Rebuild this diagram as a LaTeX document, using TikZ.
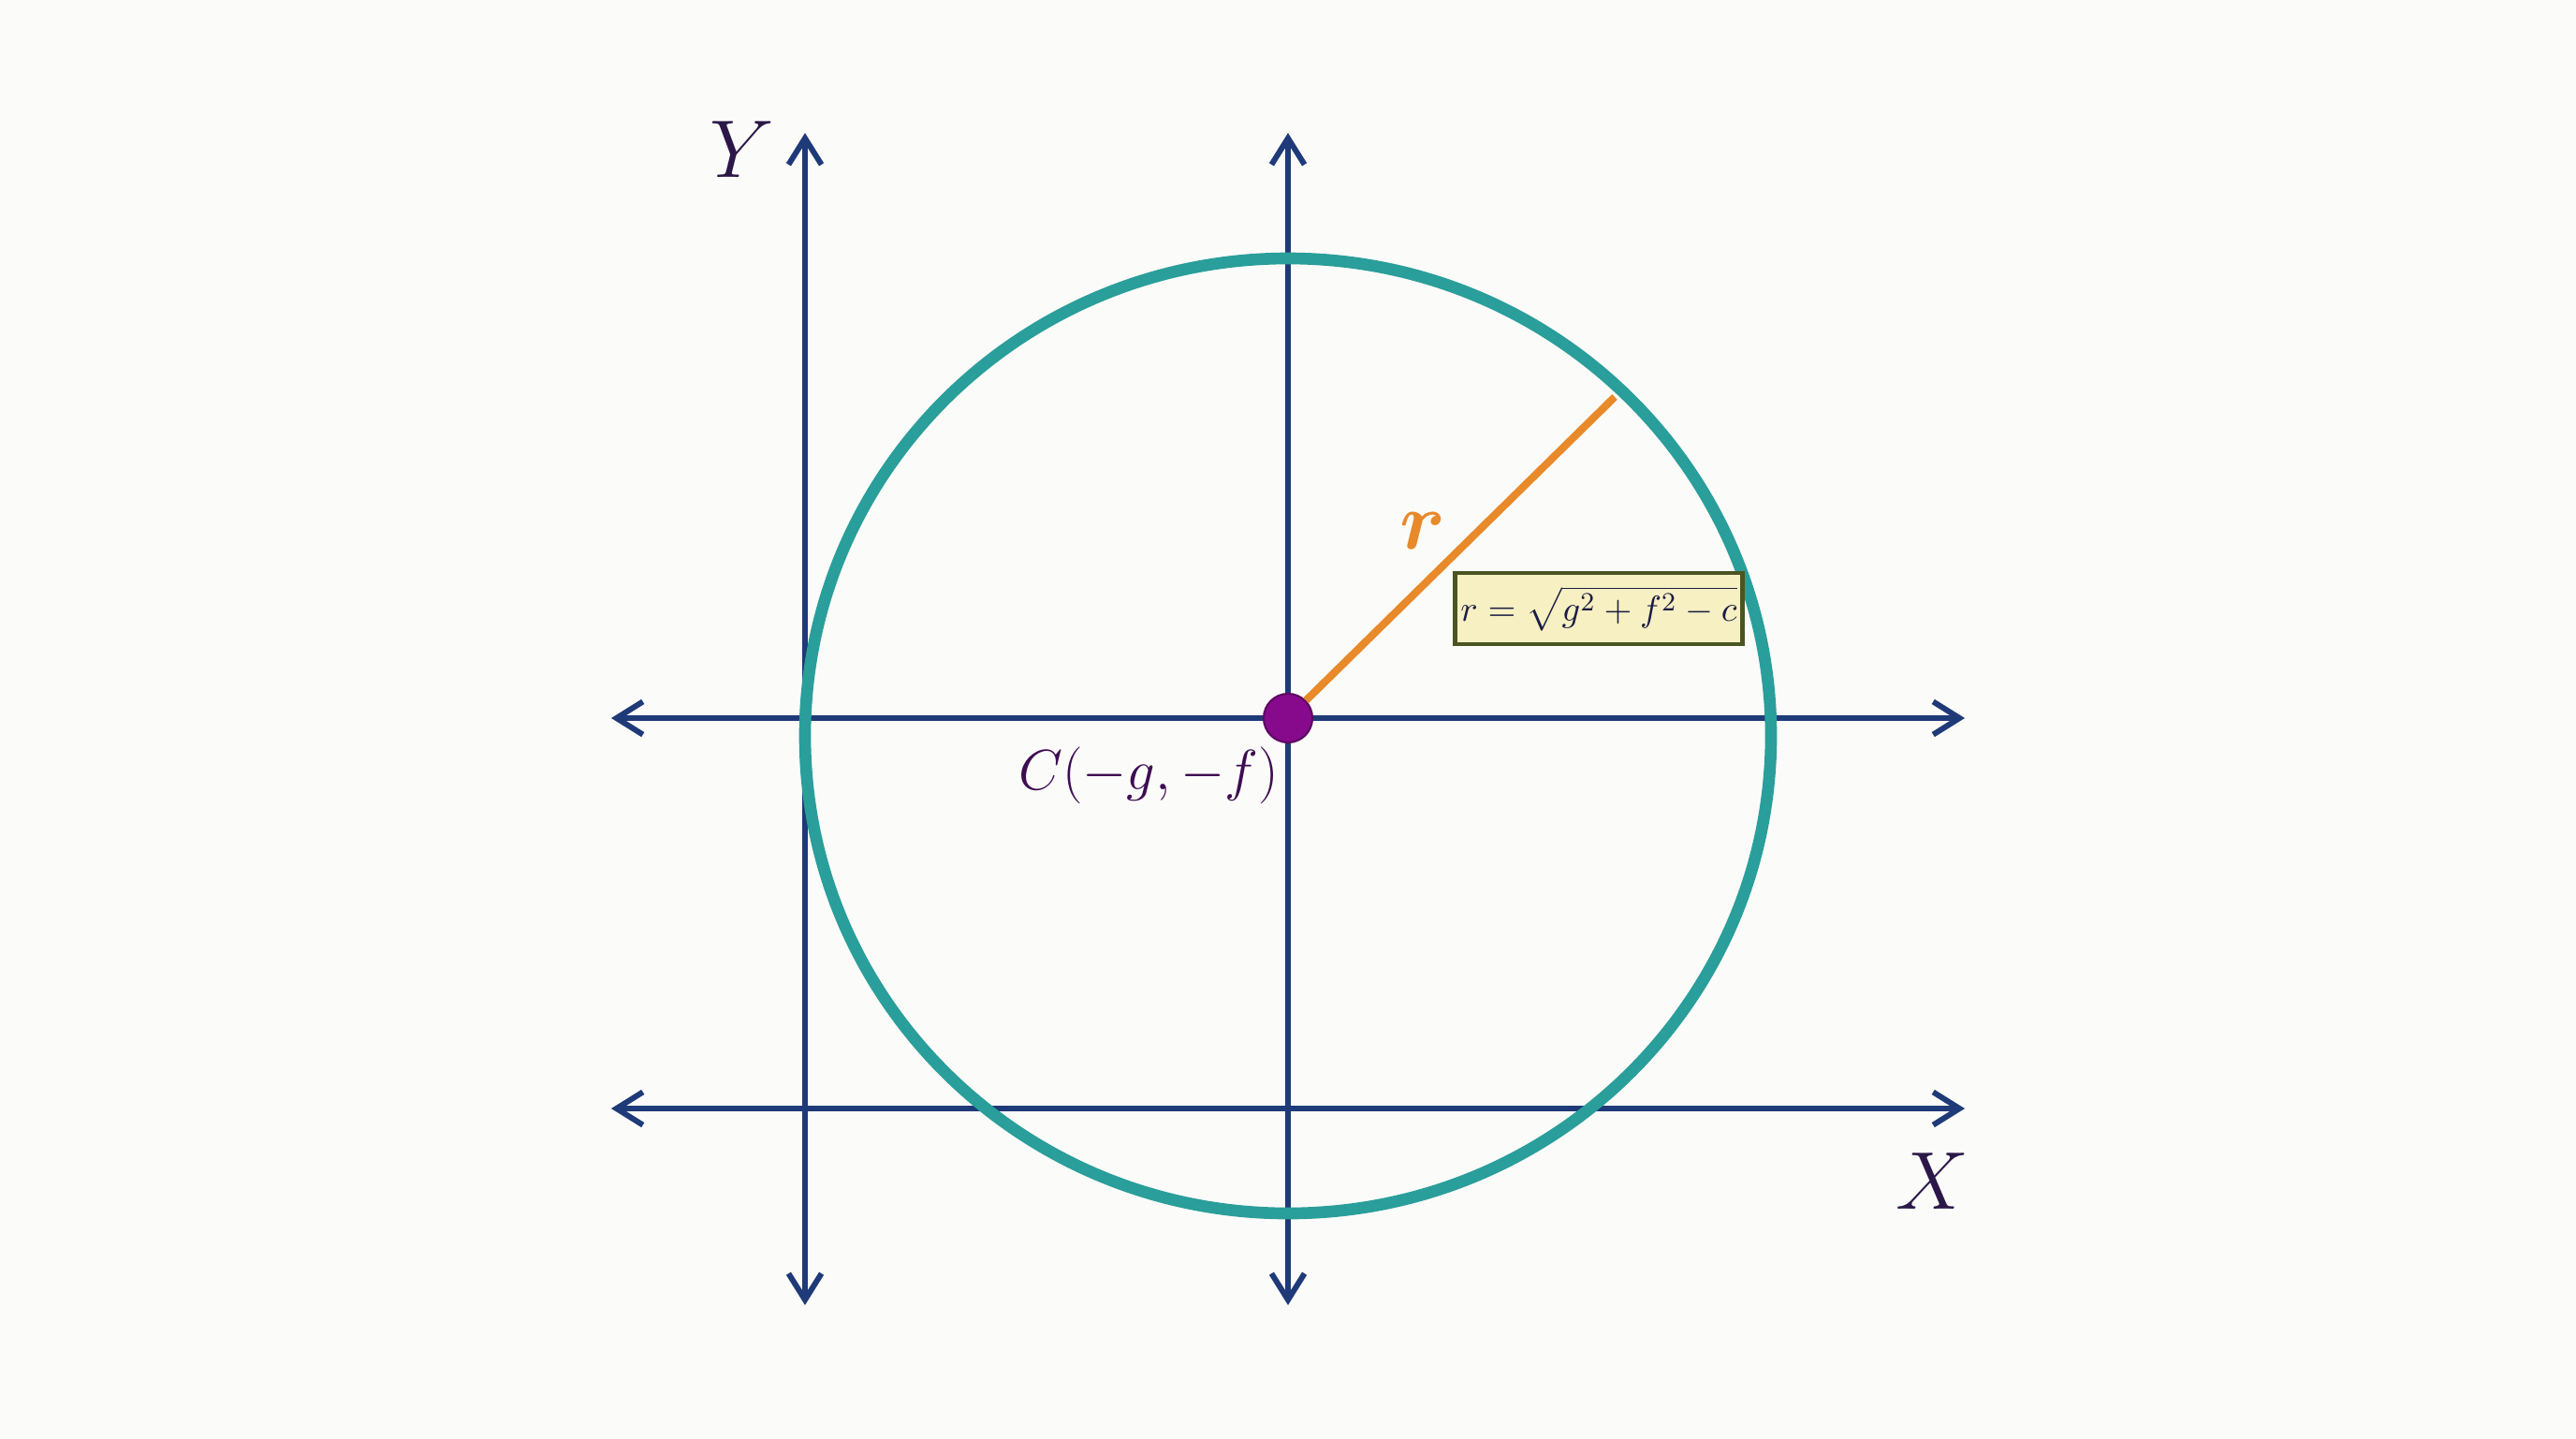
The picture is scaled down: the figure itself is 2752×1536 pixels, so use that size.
\documentclass[tikz,border=0pt]{standalone}
\usepackage{amsmath}
\usepackage{bm}
\usetikzlibrary{arrows.meta}
\definecolor{bgc}{HTML}{FBFBF9}
\definecolor{axisc}{HTML}{1F3A78}
\definecolor{circc}{HTML}{2A9E9A}
\definecolor{radc}{HTML}{E8892A}
\definecolor{dotc}{HTML}{870A8C}
\definecolor{lblc}{HTML}{2B1848}
\definecolor{clblc}{HTML}{3E0C52}
\definecolor{boxfill}{HTML}{F6F0C2}
\definecolor{boxdraw}{HTML}{4A5522}
\definecolor{formc}{HTML}{1C1C44}
\begin{document}
\begin{tikzpicture}[x=0.01cm,y=-0.01cm,
  axisline/.style={draw=axisc,line width=1.6pt,line cap=round,
    {Straight Barb[length=8pt,width=10pt,line width=1.7pt]}-{Straight Barb[length=8pt,width=10pt,line width=1.7pt]}},
  centredot/.style={circle,fill=dotc,draw=dotc!70!black,line width=0.6pt,minimum size=0.52cm,inner sep=0pt},
  formbox/.style={draw=boxdraw,line width=1.3pt,fill=boxfill,minimum width=3.07cm,minimum height=0.76cm,inner sep=0pt,text=formc},
  axislbl/.style={text=lblc,font=\fontsize{25}{30}\selectfont,inner sep=0pt}]
\fill[bgc] (0,0) rectangle (2752,1536);
\useasboundingbox (0,0) rectangle (2752,1536);
% axes end points
\coordinate (ytop) at (860,142);
\coordinate (ybot) at (860,1394);
\coordinate (vtop) at (1376,142);
\coordinate (vbot) at (1376,1394);
\coordinate (hleft) at (653,767);
\coordinate (hright) at (2099,767);
\coordinate (bleft) at (653,1184);
\coordinate (bright) at (2099,1184);
\draw[axisline] (ybot) -- (ytop);
\draw[axisline] (vbot) -- (vtop);
\draw[axisline] (hleft) -- (hright);
\draw[axisline] (bleft) -- (bright);
% circle
\draw[circc,line width=3.6pt] (1376,786) ellipse [x radius=516, y radius=510];
% centre and radius
\node[centredot] (c) at (1376,767) {};
\coordinate (rend) at (1725,424);
\draw[radc,line width=2.3pt] (c) -- (rend);
\node[text=radc,inner sep=0pt,font=\fontsize{24}{28}\selectfont] (rl) at (1520,567) {$\bm{r}$};
\node[formbox,font=\fontsize{10.8}{13}\selectfont] (fb) at (1708,650) {$r=\sqrt{g^2+f^2-c}$};
\node[text=clblc,inner sep=0pt,font=\fontsize{16.5}{20}\selectfont] (cl) at (1227,828) {$C(-g,-f)$};
\node[axislbl] (yl) at (793,160) {$Y$};
\node[axislbl] (xl) at (2064,1262) {$X$};
\end{tikzpicture}
\end{document}
